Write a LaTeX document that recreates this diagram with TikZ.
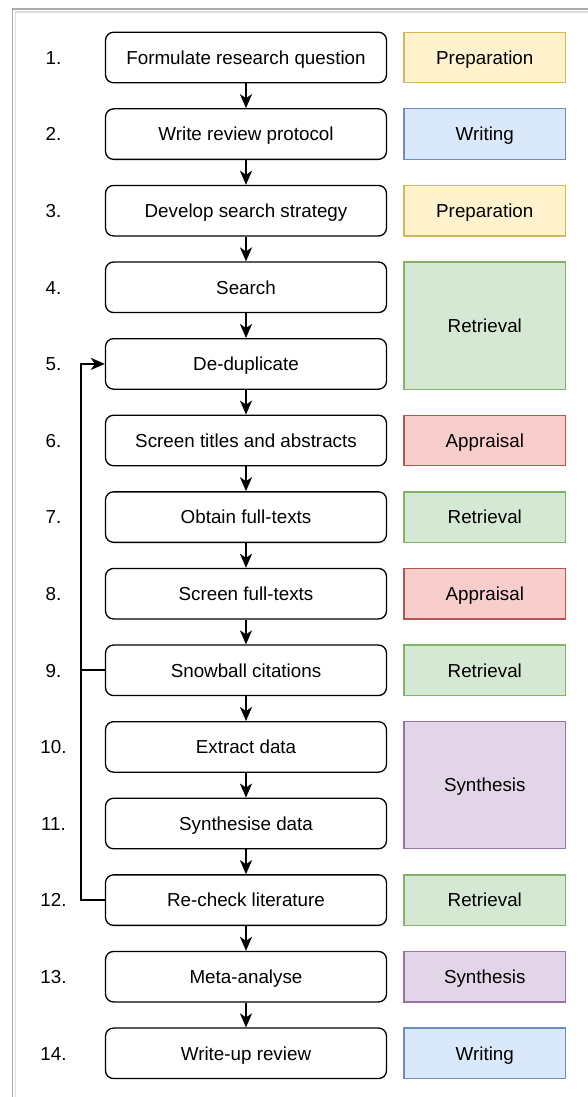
\documentclass[tikz,border=0pt]{standalone}
\usepackage{fontspec}
\setmainfont{Liberation Sans}
\usetikzlibrary{arrows.meta}
\definecolor{yfill}{HTML}{FFF2CC}\definecolor{ydraw}{HTML}{D6B656}
\definecolor{bfill}{HTML}{DAE8FC}\definecolor{bdraw}{HTML}{6C8EBF}
\definecolor{gfill}{HTML}{D5E8D4}\definecolor{gdraw}{HTML}{82B366}
\definecolor{rfill}{HTML}{F8CECC}\definecolor{rdraw}{HTML}{B85450}
\definecolor{pfill}{HTML}{E1D5E7}\definecolor{pdraw}{HTML}{9673A6}
\begin{document}
\begin{tikzpicture}[x=1pt,y=-1pt,
  font=\fontsize{18.8}{22}\selectfont,
  every node/.style={text height=13.5pt, text depth=0pt},
  stepbox/.style={draw=black, line width=1.3pt, rounded corners=8pt, minimum width=281pt, minimum height=50.5pt, inner sep=0pt, fill=white},
  phasebox/.style={line width=1.3pt, minimum width=161.7pt, inner sep=0pt},
  prep/.style={phasebox, fill=yfill, draw=ydraw, minimum height=50.5pt},
  writ/.style={phasebox, fill=bfill, draw=bdraw, minimum height=50.5pt},
  retr/.style={phasebox, fill=gfill, draw=gdraw, minimum height=50.5pt},
  appr/.style={phasebox, fill=rfill, draw=rdraw, minimum height=50.5pt},
  synt/.style={phasebox, fill=pfill, draw=pdraw, minimum height=50.5pt},
  numlbl/.style={inner sep=0pt},
  flow/.style={line width=2.2pt, -{Stealth[length=14pt,width=12pt,inset=4pt]}},
  frameA/.style={draw=gray!65, line width=1.5pt},
  frameB/.style={draw=gray!25, line width=1.5pt}]
\useasboundingbox (0,0) rectangle (588,1097);
% frame
\draw[frameA] (12.5,1097) -- (12.5,9) -- (588,9);
\draw[frameB] (15.5,1097) -- (15.5,12) -- (588,12);
% step boxes
\node[stepbox] (s1) at (246,57.5) {Formulate research question};
\node[stepbox] (s2) at (246,134.1) {Write review protocol};
\node[stepbox] (s3) at (246,210.7) {Develop search strategy};
\node[stepbox] (s4) at (246,287.3) {Search};
\node[stepbox] (s5) at (246,363.9) {De-duplicate};
\node[stepbox] (s6) at (246,440.5) {Screen titles and abstracts};
\node[stepbox] (s7) at (246,517.1) {Obtain full-texts};
\node[stepbox] (s8) at (246,593.7) {Screen full-texts};
\node[stepbox] (s9) at (246,670.3) {Snowball citations};
\node[stepbox] (s10) at (246,746.9) {Extract data};
\node[stepbox] (s11) at (246,823.5) {Synthesise data};
\node[stepbox] (s12) at (246,900.1) {Re-check literature};
\node[stepbox] (s13) at (246,976.7) {Meta-analyse};
\node[stepbox] (s14) at (246,1053.3) {Write-up review};
% numbers
\node[numlbl] (n1) at (53.5,57.5) {1.};
\node[numlbl] (n2) at (53.5,134.1) {2.};
\node[numlbl] (n3) at (53.5,210.7) {3.};
\node[numlbl] (n4) at (53.5,287.3) {4.};
\node[numlbl] (n5) at (53.5,363.9) {5.};
\node[numlbl] (n6) at (53.5,440.5) {6.};
\node[numlbl] (n7) at (53.5,517.1) {7.};
\node[numlbl] (n8) at (53.5,593.7) {8.};
\node[numlbl] (n9) at (53.5,670.3) {9.};
\node[numlbl] (n10) at (53.5,746.9) {10.};
\node[numlbl] (n11) at (53.5,823.5) {11.};
\node[numlbl] (n12) at (53.5,900.1) {12.};
\node[numlbl] (n13) at (53.5,976.7) {13.};
\node[numlbl] (n14) at (53.5,1053.3) {14.};
% phase boxes
\node[prep] (p1) at (484.8,57.5) {Preparation};
\node[writ] (p2) at (484.8,134.1) {Writing};
\node[prep] (p3) at (484.8,210.7) {Preparation};
\node[retr, minimum height=127.1pt] (p45) at (484.8,325.6) {Retrieval};
\node[appr] (p6) at (484.8,440.5) {Appraisal};
\node[retr] (p7) at (484.8,517.1) {Retrieval};
\node[appr] (p8) at (484.8,593.7) {Appraisal};
\node[retr] (p9) at (484.8,670.3) {Retrieval};
\node[synt, minimum height=127.1pt] (p1011) at (484.8,785.2) {Synthesis};
\node[retr] (p12) at (484.8,900.1) {Retrieval};
\node[synt] (p13) at (484.8,976.7) {Synthesis};
\node[writ] (p14) at (484.8,1053.3) {Writing};
% flow arrows
\foreach \i in {1,...,13}{
  \pgfmathtruncatemacro{\j}{\i+1}
  \draw[flow] (s\i.south) -- (s\j.north);
}
% feedback loop
\coordinate (c12) at (80.7,900.1);
\coordinate (c5) at (80.7,363.9);
\draw[flow] (s12.west) -- (c12) -- (c5) -- (s5.west);
\draw[line width=2.2pt] (s9.west) -- (s9.west -| c5);
\end{tikzpicture}
\end{document}
